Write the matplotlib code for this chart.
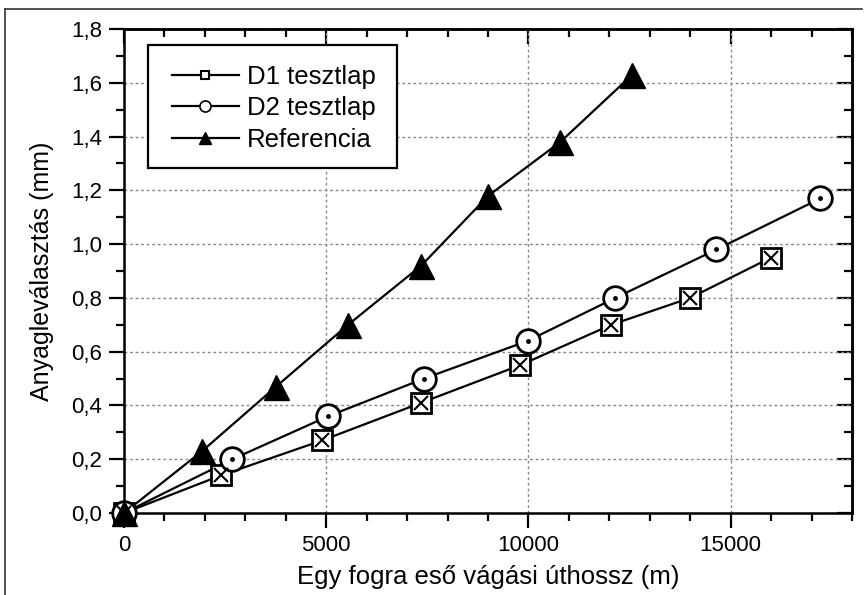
import numpy as np
import matplotlib.pyplot as plt
from matplotlib.lines import Line2D
from matplotlib.patches import Rectangle
from matplotlib.ticker import MultipleLocator, FuncFormatter, NullFormatter

plt.rcParams['font.family'] = ['Liberation Sans', 'DejaVu Sans']

# D1 tesztlap
d1_x = [0, 2400, 4900, 7350, 9800, 12050, 14000, 16000]
d1_y = [0.0, 0.14, 0.27, 0.41, 0.55, 0.70, 0.80, 0.95]
# D2 tesztlap
d2_x = [0, 2680, 5050, 7420, 9980, 12150, 14650, 17220]
d2_y = [0.0, 0.20, 0.36, 0.50, 0.64, 0.80, 0.98, 1.17]
# Referencia
ref_x = [0, 1930, 3760, 5540, 7350, 9010, 10790, 12570]
ref_y = [0.0, 0.23, 0.47, 0.70, 0.92, 1.18, 1.38, 1.63]

fig = plt.figure(figsize=(8.66, 5.95), dpi=100)
ax = fig.add_axes([0.1432, 0.1378, 0.8406, 0.8135])

# partial frame around the figure (top and left, as in the scan)
fig.add_artist(Line2D([0.006, 0.995], [0.985, 0.985], color='#333333', lw=1.2,
                      transform=fig.transFigure))
fig.add_artist(Line2D([0.006, 0.006], [0.0, 0.985], color='#333333', lw=1.2,
                      transform=fig.transFigure))

# series
ax.plot(d1_x, d1_y, color='k', lw=1.6, zorder=3)
ax.plot(d1_x, d1_y, ls='none', marker='s', ms=14, mfc='white', mec='k', mew=2.0,
        zorder=4, clip_on=False)
ax.plot(d1_x, d1_y, ls='none', marker='x', ms=10, mec='k', mew=1.5,
        zorder=5, clip_on=False)

ax.plot(d2_x, d2_y, color='k', lw=1.6, zorder=3)
ax.plot(d2_x, d2_y, ls='none', marker='o', ms=17, mfc='white', mec='k', mew=2.0,
        zorder=4, clip_on=False)
ax.plot(d2_x, d2_y, ls='none', marker='o', ms=2.5, mfc='k', mec='k',
        zorder=5, clip_on=False)

ax.plot(ref_x, ref_y, color='k', lw=1.6, zorder=3)
ax.plot(ref_x, ref_y, ls='none', marker='^', ms=18, mfc='k', mec='k',
        zorder=4, clip_on=False)

ax.set_xlim(0, 18000)
ax.set_ylim(0, 1.8)

ax.xaxis.set_major_locator(MultipleLocator(5000))
ax.xaxis.set_minor_locator(MultipleLocator(1000))
ax.yaxis.set_major_locator(MultipleLocator(0.2))
ax.yaxis.set_minor_locator(MultipleLocator(0.1))
ax.yaxis.set_major_formatter(FuncFormatter(lambda v, p: f'{v:.1f}'.replace('.', ',')))

# bottom/left ticks point outward
ax.tick_params(which='both', direction='out', width=1.6, labelsize=16, colors='k')
ax.tick_params(which='major', length=11, pad=5)
ax.tick_params(which='minor', length=5.5)

# top/right ticks point inward, without labels
sx = ax.secondary_xaxis('top')
sy = ax.secondary_yaxis('right')
sx.xaxis.set_major_locator(MultipleLocator(5000))
sx.xaxis.set_minor_locator(MultipleLocator(1000))
sx.xaxis.set_major_formatter(NullFormatter())
sy.yaxis.set_major_locator(MultipleLocator(0.2))
sy.yaxis.set_minor_locator(MultipleLocator(0.1))
sy.yaxis.set_major_formatter(NullFormatter())
for sec in (sx, sy):
    sec.tick_params(which='both', direction='in', width=1.6)
    sec.tick_params(which='major', length=11)
    sec.tick_params(which='minor', length=5.5)
    for s in sec.spines.values():
        s.set_linewidth(1.8)

for s in ax.spines.values():
    s.set_linewidth(1.8)

ax.grid(True, which='major', ls=(0, (2, 2)), color='#888888', lw=1.0)
ax.set_axisbelow(True)

ax.set_xlabel('Egy fogra eső vágási úthossz (m)', fontsize=18.5, labelpad=6)
ax.set_ylabel('Anyagleválasztás (mm)', fontsize=18, labelpad=12)

# legend box drawn separately so its padding matches the original
ax.add_patch(Rectangle((0.033, 0.713), 0.342, 0.254, transform=ax.transAxes,
                       facecolor='white', edgecolor='k', lw=1.6, zorder=6))
handles = [
    Line2D([], [], color='k', lw=1.6, marker='s', ms=6, mfc='white', mec='k', mew=1.5),
    Line2D([], [], color='k', lw=1.6, marker='o', ms=8, mfc='white', mec='k', mew=1.2),
    Line2D([], [], color='k', lw=1.6, marker='^', ms=9, mfc='k', mec='k'),
]
leg = ax.legend(handles, ['D1 tesztlap', 'D2 tesztlap', 'Referencia'],
                loc='upper left', bbox_to_anchor=(0.066, 0.925), borderaxespad=0,
                borderpad=0, frameon=False, fontsize=18.5,
                handlelength=2.6, handletextpad=0.3, labelspacing=0.28)
leg.set_zorder(7)

fig.savefig('out.png', dpi=100)
